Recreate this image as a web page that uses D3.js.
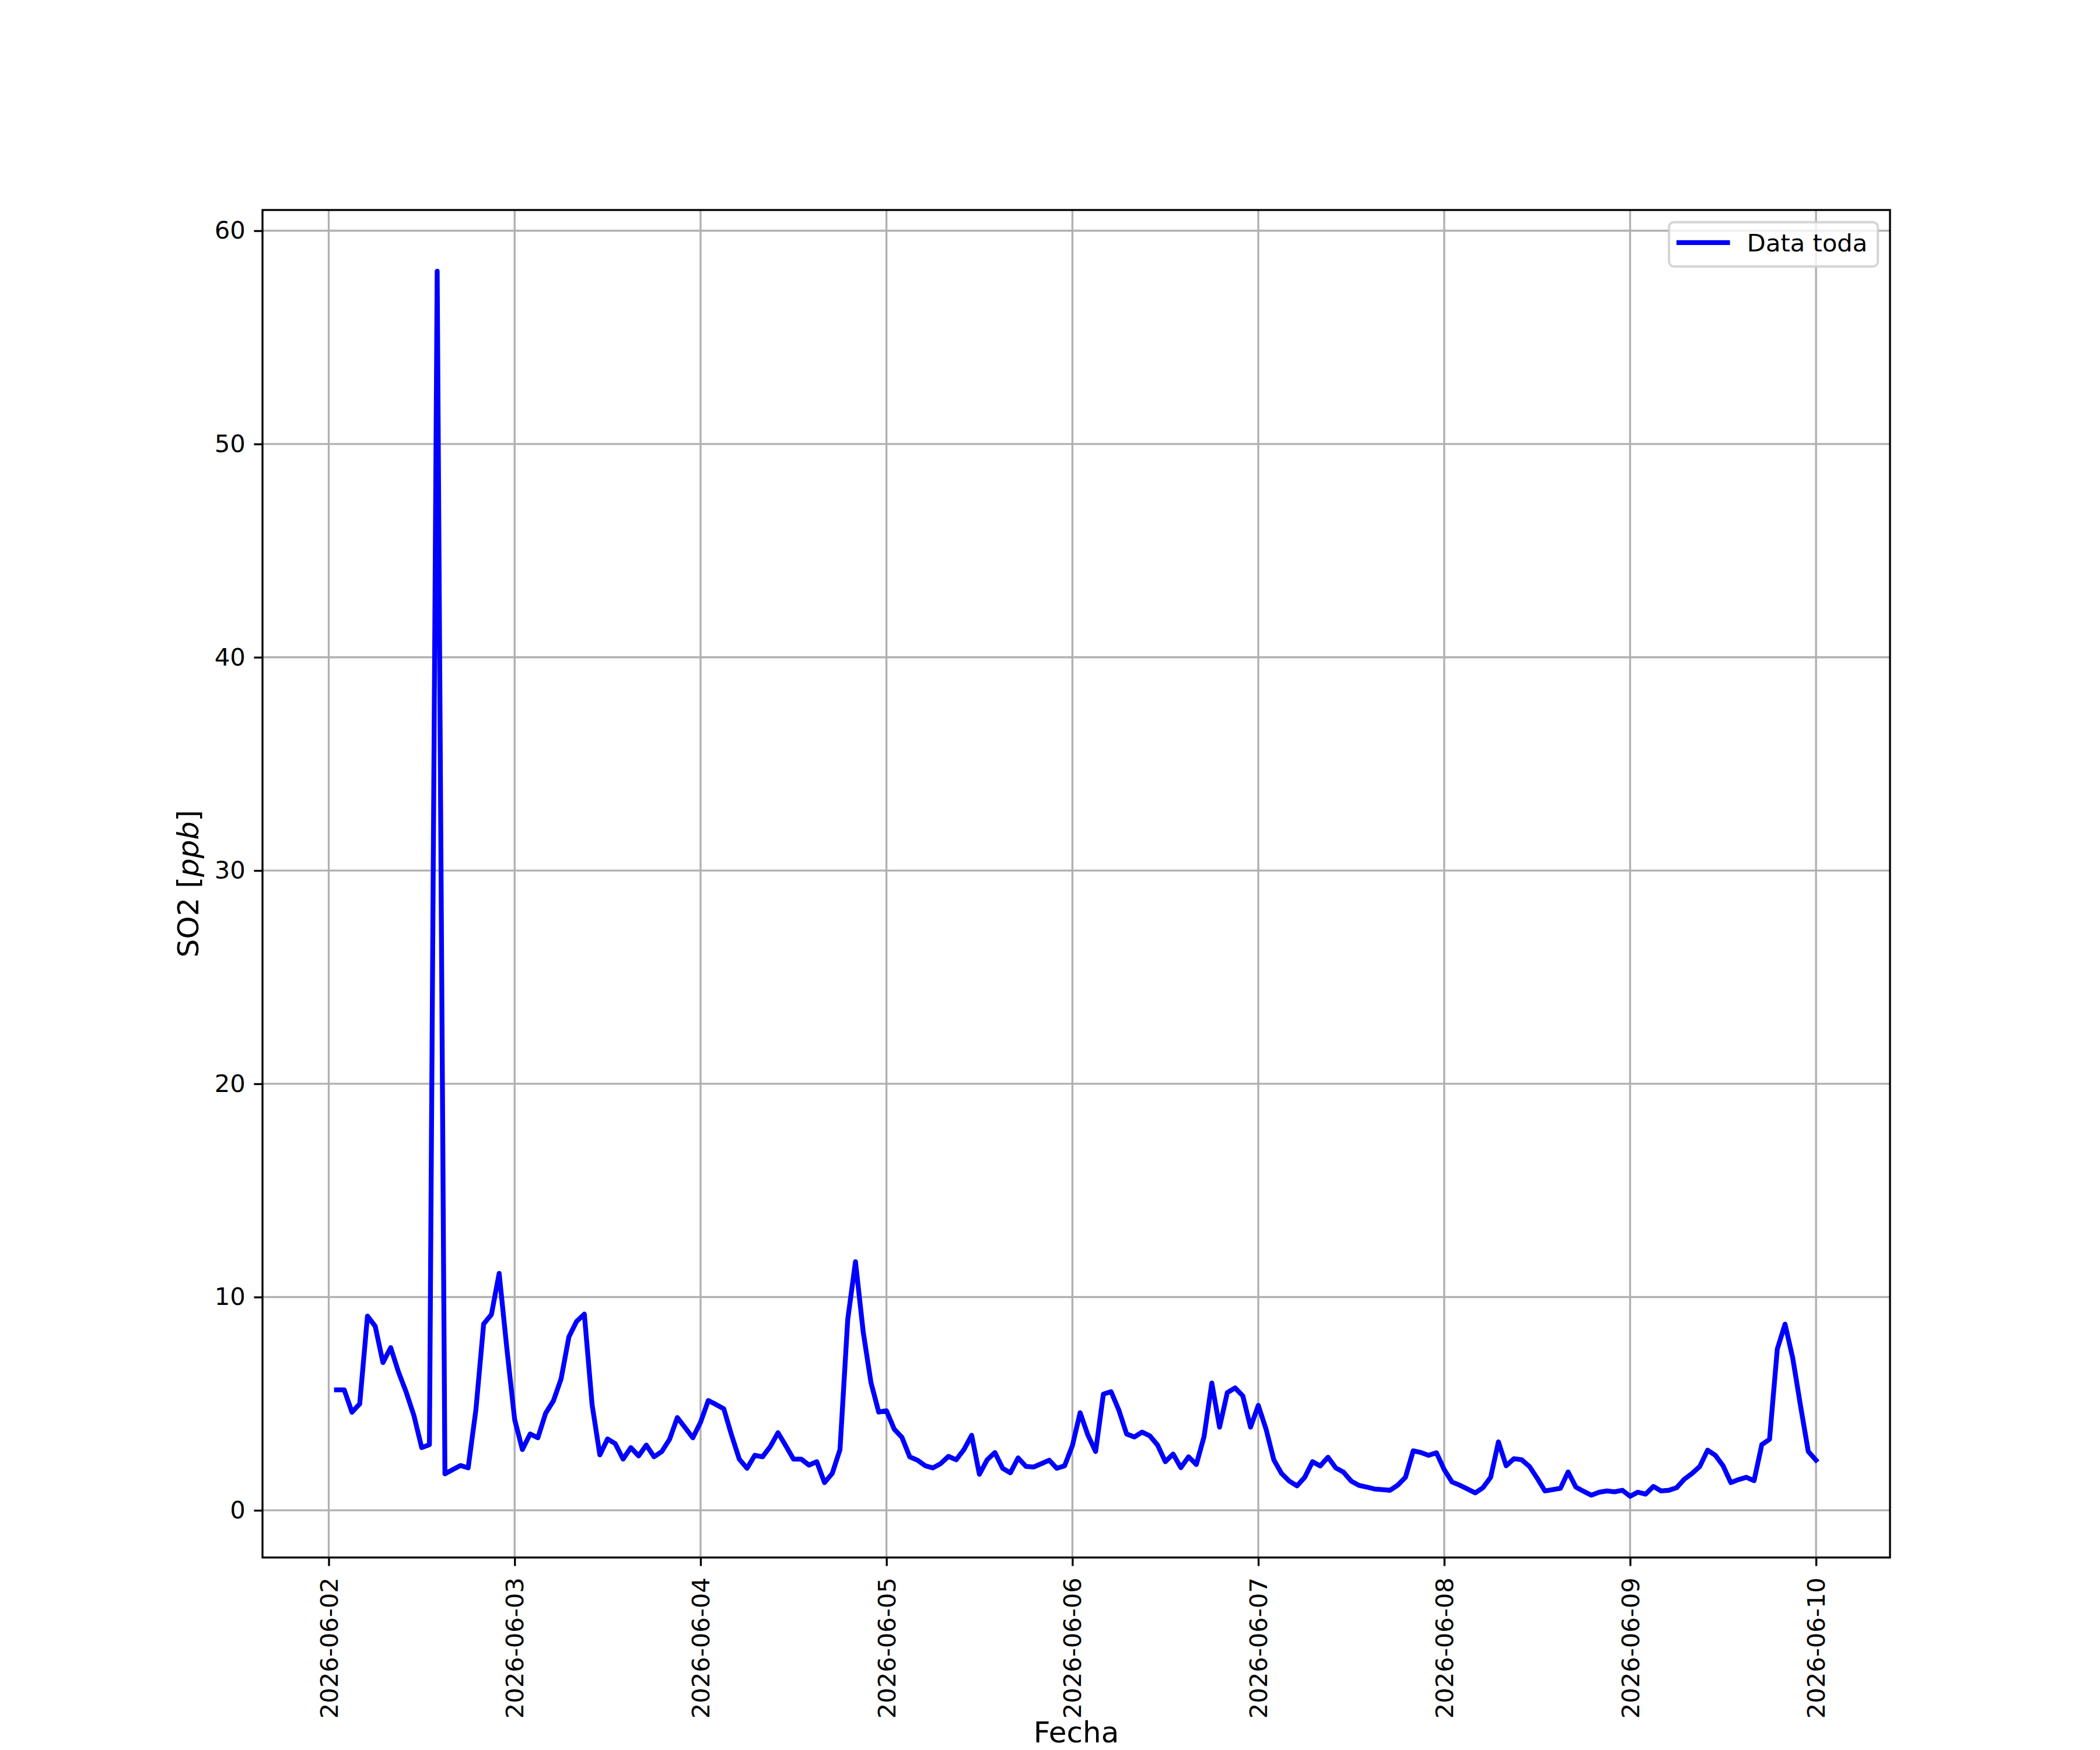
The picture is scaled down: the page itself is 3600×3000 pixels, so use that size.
<!DOCTYPE html>
<html>
<head>
<meta charset="utf-8">
<script src="https://cdn.jsdelivr.net/npm/d3@7"></script>
<style>
  body { margin: 0; background: #fff; }
  svg text { font-family: "DejaVu Sans", sans-serif; fill: #000; }
</style>
</head>
<body>
<div id="chart"></div>
<script>
// ===============================================================
// Data: hourly SO2 [ppb], first reading 2026-06-02 01:00
// one array per day (01:00 .. 24:00)
// ===============================================================
const so2_jun02 = [5.65, 5.65, 4.60, 4.99, 9.11, 8.63, 6.93, 7.63, 6.49, 5.54, 4.44, 2.94,
                   3.08, 58.1, 1.71, 1.91, 2.10, 1.99, 4.72, 8.74, 9.18, 11.11, 7.57, 4.26];
const so2_jun03 = [2.85, 3.58, 3.40, 4.55, 5.13, 6.17, 8.13, 8.86, 9.20, 4.95, 2.60, 3.35,
                   3.12, 2.40, 2.94, 2.55, 3.06, 2.51, 2.76, 3.33, 4.35, 3.88, 3.40, 4.13];
const so2_jun04 = [5.15, 4.96, 4.76, 3.53, 2.40, 1.97, 2.58, 2.51, 2.99, 3.64, 3.03, 2.40,
                   2.40, 2.12, 2.28, 1.30, 1.73, 2.85, 8.95, 11.66, 8.36, 5.99, 4.61, 4.67];
const so2_jun05 = [3.81, 3.42, 2.51, 2.35, 2.09, 1.99, 2.19, 2.53, 2.37, 2.85, 3.52, 1.69,
                   2.37, 2.71, 1.97, 1.76, 2.46, 2.06, 2.03, 2.19, 2.35, 1.97, 2.09, 3.03];
const so2_jun06 = [4.58, 3.53, 2.76, 5.45, 5.56, 4.70, 3.58, 3.44, 3.67, 3.49, 3.06, 2.28,
                   2.64, 2.00, 2.51, 2.15, 3.46, 5.97, 3.90, 5.52, 5.74, 5.37, 3.90, 4.92];
const so2_jun07 = [3.81, 2.37, 1.73, 1.37, 1.15, 1.55, 2.28, 2.08, 2.49, 1.99, 1.79, 1.37,
                   1.17, 1.09, 1.00, 0.97, 0.94, 1.18, 1.55, 2.79, 2.71, 2.58, 2.70, 1.91];
const so2_jun08 = [1.33, 1.18, 1.00, 0.82, 1.06, 1.55, 3.21, 2.09, 2.42, 2.37, 2.06, 1.51,
                   0.91, 0.97, 1.03, 1.80, 1.09, 0.89, 0.71, 0.85, 0.91, 0.87, 0.94, 0.66];
const so2_jun09 = [0.85, 0.76, 1.12, 0.91, 0.94, 1.06, 1.46, 1.73, 2.06, 2.82, 2.58, 2.09,
                   1.30, 1.44, 1.55, 1.39, 3.08, 3.33, 7.56, 8.73, 7.13, 4.90, 2.76, 2.35];

const first_reading = new Date(Date.UTC(2026, 5, 2, 1));
const y_ticks = [0, 10, 20, 30, 40, 50, 60];
const legend_label = 'Data toda';
const x_title = 'Fecha';

// ===============================================================
// Layout (matplotlib 12x10in @ 300dpi, default subplot params)
// ===============================================================
const W = 3600, H = 3000;
const margin = {left: 450, right: 360, top: 360, bottom: 330};
const plot_w = W - margin.left - margin.right;
const plot_h = H - margin.top - margin.bottom;
const pt = 300 / 72;
const tick_font = 10 * pt;
const label_font = 12 * pt;
const tick_len = 3.5 * pt;
const tick_pad = 3.5 * pt;

const values = [].concat(so2_jun02, so2_jun03, so2_jun04, so2_jun05,
                         so2_jun06, so2_jun07, so2_jun08, so2_jun09);
const data = values.map((v, i) => ({t: d3.utcHour.offset(first_reading, i), v}));

// matplotlib style 5% margins
function padded(extent) {
  const p = (extent[1] - extent[0]) * 0.05;
  return [extent[0] - p, extent[1] + p];
}
const t_ext = d3.extent(data, d => +d.t);
const x_pad = padded(t_ext);

const x = d3.scaleUtc()
  .domain([new Date(x_pad[0]), new Date(x_pad[1])])
  .range([0, plot_w]);
const y = d3.scaleLinear()
  .domain(padded(d3.extent(data, d => d.v)))
  .range([plot_h, 0]);

const day_ticks = d3.utcDay.range(new Date(Date.UTC(2026, 5, 2)), new Date(Date.UTC(2026, 5, 10, 1)));

// ===============================================================
// Drawing
// ===============================================================
const svg = d3.select('#chart').append('svg')
  .attr('width', W)
  .attr('height', H);

svg.append('rect').attr('width', W).attr('height', H).attr('fill', '#fff');

const g = svg.append('g')
  .attr('transform', `translate(${margin.left},${margin.top})`);

// grid
g.append('g').selectAll('line.vgrid')
  .data(day_ticks)
  .join('line')
  .attr('x1', d => x(d)).attr('x2', d => x(d))
  .attr('y1', 0).attr('y2', plot_h)
  .attr('stroke', '#b0b0b0').attr('stroke-width', 0.8 * pt);

g.append('g').selectAll('line.hgrid')
  .data(y_ticks)
  .join('line')
  .attr('x1', 0).attr('x2', plot_w)
  .attr('y1', d => y(d)).attr('y2', d => y(d))
  .attr('stroke', '#b0b0b0').attr('stroke-width', 0.8 * pt);

// series
const line = d3.line()
  .x(d => x(d.t))
  .y(d => y(d.v));

g.append('path')
  .datum(data)
  .attr('d', line)
  .attr('fill', 'none')
  .attr('stroke', '#0000ff')
  .attr('stroke-width', 2 * pt)
  .attr('stroke-linejoin', 'round')
  .attr('stroke-linecap', 'square');

// axes
const y_axis = g.append('g')
  .call(d3.axisLeft(y).tickValues(y_ticks).tickSize(tick_len).tickPadding(tick_pad));

const x_axis = g.append('g')
  .attr('transform', `translate(0,${plot_h})`)
  .call(d3.axisBottom(x).tickValues(day_ticks).tickSize(tick_len).tickPadding(tick_pad)
    .tickFormat(d3.utcFormat('%Y-%m-%d')));

[y_axis, x_axis].forEach(a => {
  a.select('.domain').remove();
  a.selectAll('.tick line').attr('stroke', '#000').attr('stroke-width', 0.8 * pt);
  a.selectAll('.tick text')
    .attr('font-size', tick_font)
    .attr('font-family', '"DejaVu Sans", sans-serif')
    .attr('fill', '#000');
});

x_axis.selectAll('.tick text')
  .attr('transform', 'rotate(-90)')
  .attr('text-anchor', 'end')
  .attr('x', -(tick_len + tick_pad + 5))
  .attr('y', 0)
  .attr('dy', '0.35em');

// spines
g.append('rect')
  .attr('width', plot_w).attr('height', plot_h)
  .attr('fill', 'none')
  .attr('stroke', '#000')
  .attr('stroke-width', 0.8 * pt);

// axis titles
svg.append('text')
  .attr('x', margin.left + plot_w / 2)
  .attr('y', H - 13)
  .attr('text-anchor', 'middle')
  .attr('font-size', label_font)
  .text(x_title);

const ylab = svg.append('text')
  .attr('transform', `translate(340,${margin.top + plot_h / 2}) rotate(-90)`)
  .attr('text-anchor', 'middle')
  .attr('font-size', label_font);
ylab.append('tspan').text('SO2 [');
ylab.append('tspan').attr('font-style', 'italic').text('ppb');
ylab.append('tspan').text(']');

// legend
const lg = g.append('g')
  .attr('transform', `translate(${plot_w - 0.5 * tick_font},${0.5 * tick_font})`);
const lg_w = 358, lg_h = 76;
lg.append('rect')
  .attr('x', -lg_w).attr('y', 0)
  .attr('width', lg_w).attr('height', lg_h)
  .attr('rx', 0.2 * tick_font)
  .attr('fill', '#fff').attr('fill-opacity', 0.8)
  .attr('stroke', '#cccccc').attr('stroke-opacity', 0.8)
  .attr('stroke-width', 1 * pt);
lg.append('line')
  .attr('x1', -lg_w + 17).attr('x2', -lg_w + 17 + 2 * tick_font)
  .attr('y1', lg_h / 2 - 3).attr('y2', lg_h / 2 - 3)
  .attr('stroke', '#0000ff')
  .attr('stroke-width', 2 * pt)
  .attr('stroke-linecap', 'square');
lg.append('text')
  .attr('x', -lg_w + 17 + 2.8 * tick_font)
  .attr('y', lg_h / 2 + 12)
  .attr('font-size', tick_font)
  .text(legend_label);
</script>
</body>
</html>
